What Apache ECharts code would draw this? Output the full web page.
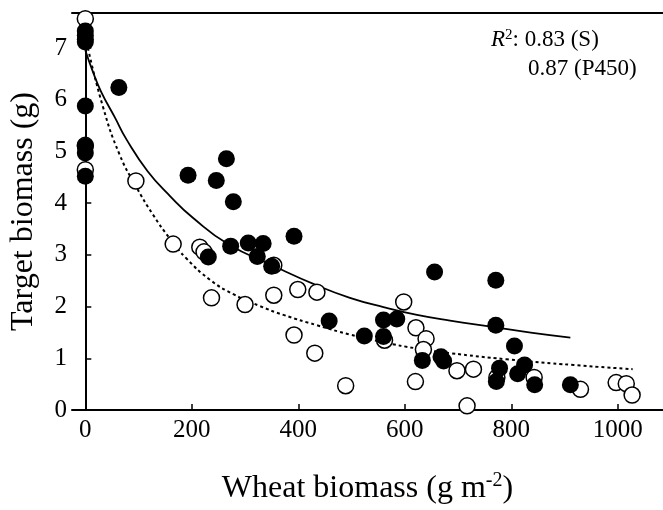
<!DOCTYPE html>
<html>
<head>
	<meta charset="utf-8" />
	<title>Target biomass</title>
	<script type="text/javascript" src="https://cdn.jsdelivr.net/npm/echarts@6.0.0/dist/echarts.min.js"></script>
	<style>
		html, body {margin:0;padding:0;background:#fff;}
		#chart {width:663px;height:510px;}
	</style>
</head>
<body>
	<div id="chart"></div>
	<script>
		// S (filled circles)
		var sWheat  = [0, 0, 0, 0, 0, 0, 0, 0, 63, 193, 246, 265, 278, 392, 273, 306, 334, 323, 350, 231, 656, 458, 524, 560, 585, 560, 633, 673, 668, 771, 771, 806, 778, 772, 812, 825, 844, 911];
		var sTarget = [7.33, 7.25, 7.17, 7.12, 5.88, 5.10, 4.97, 4.52, 6.24, 4.54, 4.44, 4.86, 4.03, 3.36, 3.17, 3.23, 3.22, 2.97, 2.78, 2.96, 2.67, 1.72, 1.43, 1.74, 1.76, 1.42, 0.96, 0.95, 1.03, 2.51, 1.64, 1.24, 0.81, 0.55, 0.70, 0.87, 0.49, 0.49];

		// P450 (open circles)
		var pWheat  = [0, 0, 0, 95, 165, 215, 223, 237, 300, 354, 354, 399, 435, 392, 431, 489, 562, 598, 621, 640, 635, 620, 698, 729, 717, 773, 843, 930, 997, 1016, 1027];
		var pTarget = [7.57, 5.12, 4.65, 4.43, 3.21, 3.15, 3.06, 2.17, 2.04, 2.80, 2.22, 2.33, 2.28, 1.45, 1.10, 0.47, 1.35, 2.09, 1.59, 1.38, 1.17, 0.55, 0.76, 0.79, 0.08, 0.63, 0.63, 0.40, 0.53, 0.51, 0.29];

		// fitted curves
		var sFitX = [0, 14, 30, 55, 77, 117, 160, 202, 268, 353, 435, 497, 560, 623, 685, 771, 840, 911];
		var sFitY = [6.96, 6.55, 6.15, 5.67, 5.24, 4.62, 4.13, 3.72, 3.21, 2.79, 2.41, 2.17, 1.99, 1.84, 1.73, 1.60, 1.49, 1.40];
		var pFitX = [5, 33, 64, 95, 127, 160, 190, 234, 278, 328, 372, 435, 497, 560, 623, 685, 792, 917, 1028];
		var pFitY = [7.0, 5.87, 4.95, 4.33, 3.78, 3.30, 2.93, 2.52, 2.24, 2.01, 1.84, 1.64, 1.46, 1.31, 1.19, 1.10, 0.98, 0.87, 0.79];

		var xTicks = [0, 200, 400, 600, 800, 1000];
		var yTicks = [0, 1, 2, 3, 4, 5, 6, 7];

		var FONT = 'Liberation Serif';
		var chart;

		fnChart();

		function pairs(xs, ys) {
			return xs.map(function(x, i) { return [x, ys[i]]; });
		}

		function fnChart() {
			chart = echarts.init(document.getElementById('chart'), null, {renderer: 'canvas'});

			var axisLine = {show: true, lineStyle: {color: '#000', width: 2}};

			var option = {
				animation: false,
				backgroundColor: '#fff',
				grid: {left: 72, right: 0, top: 13, bottom: 98},
				xAxis: [
					{
						type: 'value',
						min: -25,
						max: 1085,
						axisLine: axisLine,
						splitLine: {show: false},
						axisTick: {show: true, inside: true, length: 6, customValues: xTicks, lineStyle: {color: '#000', width: 1.5}},
						axisLabel: {
							customValues: xTicks, margin: 8, color: '#000', fontFamily: FONT, fontSize: 25,
							formatter: function(v) { return String(v); }
						},
						name: 'Wheat biomass (g m{sup|-2})',
						nameLocation: 'middle',
						nameGap: 61,
						nameTextStyle: {
							color: '#000', fontFamily: FONT, fontSize: 32,
							rich: {sup: {fontFamily: FONT, fontSize: 20, color: '#000', verticalAlign: 'top', lineHeight: 36}}
						}
					},
					{
						type: 'value',
						position: 'top',
						min: -25,
						max: 1085,
						axisLine: axisLine,
						axisTick: {show: false},
						axisLabel: {show: false},
						splitLine: {show: false}
					}
				],
				yAxis: {
					type: 'value',
					min: 0,
					max: 7.68,
					axisLine: axisLine,
					splitLine: {show: false},
					axisTick: {show: true, inside: true, length: 6, customValues: yTicks, lineStyle: {color: '#000', width: 1.5}},
					axisLabel: {customValues: yTicks, margin: 5, color: '#000', fontFamily: FONT, fontSize: 25},
					name: 'Target biomass (g)',
					nameLocation: 'middle',
					nameGap: 32,
					nameTextStyle: {color: '#000', fontFamily: FONT, fontSize: 32}
				},
				graphic: [
					{
						type: 'text',
						left: 491,
						top: 28,
						style: {
							text: '{i|R}{sup|2}{n|: 0.83 (S)}',
							rich: {
								i: {fontFamily: FONT, fontSize: 23, fontStyle: 'italic', fill: '#000'},
								sup: {fontFamily: FONT, fontSize: 15, fill: '#000', verticalAlign: 'top'},
								n: {fontFamily: FONT, fontSize: 23, fill: '#000'}
							}
						}
					},
					{
						type: 'text',
						left: 528,
						top: 57,
						style: {text: '0.87 (P450)', fontFamily: FONT, fontSize: 23, fill: '#000'}
					}
				],
				series: [
					{
						name: 'S fit',
						type: 'line',
						smooth: true,
						showSymbol: false,
						lineStyle: {color: '#000', width: 1.8},
						data: pairs(sFitX, sFitY),
						z: 1
					},
					{
						name: 'P450 fit',
						type: 'line',
						smooth: true,
						showSymbol: false,
						lineStyle: {color: '#000', width: 2, type: [3, 3]},
						data: pairs(pFitX, pFitY),
						z: 1
					},
					{
						name: 'P450',
						type: 'scatter',
						symbol: 'circle',
						symbolSize: 16,
						itemStyle: {color: '#fff', borderColor: '#000', borderWidth: 1.5, opacity: 1},
						data: pairs(pWheat, pTarget),
						z: 2
					},
					{
						name: 'S',
						type: 'scatter',
						symbol: 'circle',
						symbolSize: 17,
						itemStyle: {color: '#000', opacity: 1},
						data: pairs(sWheat, sTarget),
						z: 3
					}
				]
			};

			chart.setOption(option);
		}
	</script>
</body>
</html>
